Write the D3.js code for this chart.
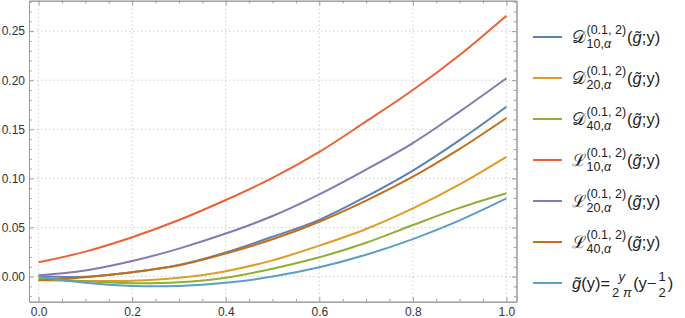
<!DOCTYPE html>
<html>
<head>
<meta charset="utf-8">
<script src="https://cdn.jsdelivr.net/npm/d3@7"></script>
<style>
  body { margin: 0; background: #fff; }
  svg { display: block; font-family: 'Liberation Sans', Arial, sans-serif; }
</style>
</head>
<body>
<div id="chart"></div>
<script>
const xValues = [0, 0.1, 0.2, 0.3, 0.4, 0.5, 0.6, 0.7, 0.8, 0.9, 1.0];
const d10 = [0.0003, -0.0002, 0.0045, 0.0118, 0.0245, 0.0405, 0.0578, 0.0815, 0.108, 0.139, 0.173];
const d20 = [-0.0035, -0.0045, -0.0042, -0.0012, 0.0055, 0.0165, 0.0315, 0.0485, 0.0695, 0.094, 0.122];
const d40 = [-0.002, -0.0048, -0.0068, -0.0058, -0.0011, 0.008, 0.0196, 0.0345, 0.0525, 0.0700, 0.0848];
const l10 = [0.0146, 0.0254, 0.040, 0.0576, 0.078, 0.1005, 0.127, 0.158, 0.190, 0.2257, 0.2657];
const l20 = [0.0013, 0.0062, 0.0158, 0.0285, 0.0438, 0.0617, 0.0838, 0.109, 0.136, 0.168, 0.202];
const l40 = [-0.0038, -0.0006, 0.0044, 0.0115, 0.0235, 0.038, 0.0558, 0.0773, 0.1017, 0.130, 0.1615];
const gTilde = [0, -0.0064, -0.0095, -0.0095, -0.0064, 0, 0.0095, 0.0223, 0.0382, 0.0573, 0.0796];

const series = [d10, d20, d40, l10, l20, l40, gTilde];
const colors = ['#5e81b5', '#e19c24', '#8fb032', '#eb6235', '#8778b3', '#c56e1a', '#5d9ec7'];

const legendLetters = ['\u{1D49F}', '\u{1D49F}', '\u{1D49F}', '\u2112', '\u2112', '\u2112'];
const legendSubs = ['10', '20', '40', '10', '20', '40'];

const xTicks = [0, 0.2, 0.4, 0.6, 0.8, 1.0];
const yTicks = [0, 0.05, 0.10, 0.15, 0.20, 0.25];
const xMinor = d3.range(0, 21).map(k => k / 20).filter(v => Math.abs(v * 5 - Math.round(v * 5)) > 1e-6);
const yMinor = d3.range(-2, 29).map(k => k / 100).filter(v => Math.abs(v * 20 - Math.round(v * 20)) > 1e-6);

const width = 685, height = 318;
const frame = { left: 29, right: 516.5, top: 0.7, bottom: 301.7 };
const frameColor = '#9a9a9a';
const labelColor = '#333';

const x = d3.scaleLinear().domain([-0.0205, 1.0215]).range([frame.left, frame.right]);
const y = d3.scaleLinear().domain([-0.0256, 0.281]).range([frame.bottom, frame.top]);

const svg = d3.select('#chart')
  .append('svg')
    .attr('width', width)
    .attr('height', height);

// dotted grid
svg.append('g')
  .selectAll('line')
  .data(xTicks)
  .join('line')
    .attr('x1', d => x(d)).attr('x2', d => x(d))
    .attr('y1', frame.top).attr('y2', frame.bottom)
    .attr('stroke', '#c4c4c4')
    .attr('stroke-dasharray', '1.2,2.8');
svg.append('g')
  .selectAll('line')
  .data(yTicks)
  .join('line')
    .attr('x1', frame.left).attr('x2', frame.right)
    .attr('y1', d => y(d)).attr('y2', d => y(d))
    .attr('stroke', '#c4c4c4')
    .attr('stroke-dasharray', '1.2,2.8');

// curves
svg.append('clipPath').attr('id', 'plotclip')
  .append('rect')
    .attr('x', frame.left).attr('y', frame.top)
    .attr('width', frame.right - frame.left).attr('height', frame.bottom - frame.top);

const line = d3.line()
  .x((d, i) => x(xValues[i]))
  .y(d => y(d))
  .curve(d3.curveCatmullRom.alpha(0.5));

svg.append('g')
  .attr('clip-path', 'url(#plotclip)')
  .selectAll('path')
  .data(series)
  .join('path')
    .attr('d', d => line(d))
    .attr('fill', 'none')
    .attr('stroke', (d, i) => colors[i])
    .attr('stroke-width', 2);

// frame with inward ticks on all four sides
function styleAxis(g) {
  g.attr('font-family', null).attr('font-size', 12);
  g.select('.domain').attr('stroke', frameColor);
  g.selectAll('.tick line').attr('stroke', frameColor);
  g.selectAll('.tick text').attr('fill', labelColor);
}

svg.append('g')
  .attr('transform', 'translate(0,' + frame.bottom + ')')
  .call(d3.axisBottom(x).tickValues(xTicks).tickSize(-4.5).tickSizeOuter(0).tickPadding(5.5).tickFormat(d3.format('.1f')))
  .call(styleAxis);
svg.append('g')
  .attr('transform', 'translate(0,' + frame.bottom + ')')
  .call(d3.axisBottom(x).tickValues(xMinor).tickSize(-2.7).tickSizeOuter(0).tickFormat(''))
  .call(styleAxis);

svg.append('g')
  .attr('transform', 'translate(0,' + frame.top + ')')
  .call(d3.axisTop(x).tickValues(xTicks).tickSize(-4.5).tickSizeOuter(0).tickFormat(''))
  .call(styleAxis);
svg.append('g')
  .attr('transform', 'translate(0,' + frame.top + ')')
  .call(d3.axisTop(x).tickValues(xMinor).tickSize(-2.7).tickSizeOuter(0).tickFormat(''))
  .call(styleAxis);

svg.append('g')
  .attr('transform', 'translate(' + frame.left + ',0)')
  .call(d3.axisLeft(y).tickValues(yTicks).tickSize(-4.5).tickSizeOuter(0).tickPadding(4).tickFormat(d3.format('.2f')))
  .call(styleAxis);
svg.append('g')
  .attr('transform', 'translate(' + frame.left + ',0)')
  .call(d3.axisLeft(y).tickValues(yMinor).tickSize(-2.7).tickSizeOuter(0).tickFormat(''))
  .call(styleAxis);

svg.append('g')
  .attr('transform', 'translate(' + frame.right + ',0)')
  .call(d3.axisRight(y).tickValues(yTicks).tickSize(-4.5).tickSizeOuter(0).tickFormat(''))
  .call(styleAxis);
svg.append('g')
  .attr('transform', 'translate(' + frame.right + ',0)')
  .call(d3.axisRight(y).tickValues(yMinor).tickSize(-2.7).tickSizeOuter(0).tickFormat(''))
  .call(styleAxis);

// legend
const legend = svg.append('g').attr('fill', '#222');
const lx = 572;

function addText(g, xPos, yPos, size, parts) {
  const t = g.append('text').attr('x', xPos).attr('y', yPos).attr('font-size', size);
  parts.forEach(p => {
    const s = t.append('tspan').text(p[0]);
    if (p[1]) s.attr('font-style', 'italic');
  });
  return t;
}

series.forEach((s, i) => {
  const yc = 37 + 41 * i;
  const g = legend.append('g');
  g.append('line')
    .attr('x1', 533).attr('x2', 562)
    .attr('y1', yc).attr('y2', yc)
    .attr('stroke', colors[i])
    .attr('stroke-width', 2);

  if (i < 6) {
    const main = addText(g, lx, yc + 6, 17, [[legendLetters[i]]]);
    const sx = lx + main.node().getComputedTextLength() + 0.5;
    const sup = addText(g, sx, yc - 3.5, 12.5, [['(0.1, 2)']]);
    const sub = addText(g, sx, yc + 10.5, 12.5, [[legendSubs[i] + ','], ['\u03B1', true]]);
    const ex = sx + Math.max(sup.node().getComputedTextLength(), sub.node().getComputedTextLength()) + 1;
    addText(g, ex, yc + 6, 16.5, [['('], ['g\u0303', true], [';y)']]);
  } else {
    const head = addText(g, lx, yc + 6, 16.5, [['g\u0303', true], ['(y)=']]);
    let cx = lx + head.node().getComputedTextLength() + 2;
    const num = addText(g, 0, yc - 2, 13, [['y', true]]);
    const den = addText(g, 0, yc + 14.3, 13, [['2 '], ['\u03C0', true]]);
    const fw = Math.max(num.node().getComputedTextLength(), den.node().getComputedTextLength());
    num.attr('x', cx + fw / 2).attr('text-anchor', 'middle');
    den.attr('x', cx + fw / 2).attr('text-anchor', 'middle');
    cx += fw + 1.5;
    const mid = addText(g, cx, yc + 6, 16.5, [['(y\u2212']]);
    cx += mid.node().getComputedTextLength() + 2;
    const one = addText(g, 0, yc - 2.3, 13, [['1']]);
    const two = addText(g, 0, yc + 14.3, 13, [['2']]);
    const fw2 = Math.max(one.node().getComputedTextLength(), two.node().getComputedTextLength());
    one.attr('x', cx + fw2 / 2).attr('text-anchor', 'middle');
    two.attr('x', cx + fw2 / 2).attr('text-anchor', 'middle');
    cx += fw2 + 2;
    addText(g, cx, yc + 6, 16.5, [[')']]);
  }
});
</script>
</body>
</html>
